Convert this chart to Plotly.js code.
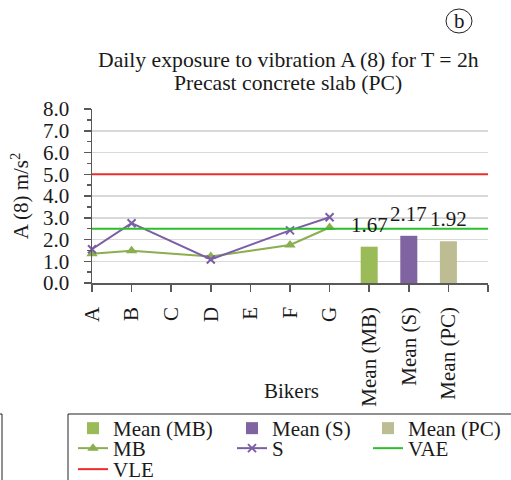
<!DOCTYPE html>
<html>
<head>
<meta charset="utf-8">
<script src="https://cdn.plot.ly/plotly-3.0.1.min.js"></script>
<style>html,body{margin:0;padding:0;background:#fff;}#chart{width:511px;height:480px;}</style>
</head>
<body>
<div id="chart"></div>
<script>
const categories = ['A', 'B', 'C', 'D', 'E', 'F', 'G', 'Mean (MB)', 'Mean (S)', 'Mean (PC)'];
const bikerIdx = [0, 1, 2, 3, 4, 5, 6];
const mbValues = [1.35, 1.48, null, 1.22, null, 1.75, 2.55];
const sValues = [1.55, 2.75, null, 1.08, null, 2.42, 3.02];
const meanIdx = [7, 8, 9];
const meanNames = ['Mean (MB)', 'Mean (S)', 'Mean (PC)'];
const meanValues = [1.67, 2.17, 1.92];
const vleValue = 5.0;
const vaeValue = 2.5;

const FONT = 'Liberation Serif, Times New Roman, serif';
const TXT = '#1a1a1a';
const FS = 21;
const FT = 21.7;
const barColors = ['#9BBB59', '#8064A2', '#BDBC93'];

// pixel -> paper helpers (plot area: x 92..488, y 109..283)
const L = 92, R = 488, T = 109, B = 283;
const px = v => (v - L) / (R - L);
const py = v => (B - v) / (B - T);

const traces = [];
meanIdx.forEach((xi, i) => {
  traces.push({
    type: 'bar', x: [xi], y: [meanValues[i]], name: meanNames[i], width: 0.43,
    marker: {color: barColors[i]}, legend: i === 0 ? 'legend' : 'legend' + (i + 1)
  });
});
traces.push({
  type: 'scatter', mode: 'lines+markers', x: bikerIdx, y: mbValues, name: 'MB', connectgaps: true,
  line: {color: '#8BAE4F', width: 2}, marker: {symbol: 'triangle-up', size: 10, color: '#8BAE4F'},
  legend: 'legend4', cliponaxis: false
});
traces.push({
  type: 'scatter', mode: 'lines+markers', x: bikerIdx, y: sValues, name: 'S', connectgaps: true,
  line: {color: '#7B5EA7', width: 2}, marker: {symbol: 'x-thin-open', size: 8, line: {color: '#7B5EA7', width: 2}},
  legend: 'legend5', cliponaxis: false
});
traces.push({
  type: 'scatter', mode: 'lines', x: [0, categories.length], y: [vaeValue, vaeValue], name: 'VAE',
  line: {color: '#2DBE2D', width: 2}, legend: 'legend6'
});
traces.push({
  type: 'scatter', mode: 'lines', x: [0, categories.length], y: [vleValue, vleValue], name: 'VLE',
  line: {color: '#EE2B2B', width: 2}, legend: 'legend7'
});

function leg(xpix, ypix) {
  return {x: px(xpix), y: py(ypix), xanchor: 'left', yanchor: 'top', xref: 'paper', yref: 'paper',
    bgcolor: 'rgba(0,0,0,0)', borderwidth: 0, font: {family: FONT, size: FS, color: TXT}};
}

const tickvals = categories.map((c, i) => i).concat([categories.length]);
const ticktext = categories.concat(['']);

const annotations = [
  {text: 'Daily exposure to vibration A (8) for T = 2h', x: px(288), y: py(60), xref: 'paper', yref: 'paper',
   showarrow: false, xanchor: 'center', yanchor: 'middle', font: {family: FONT, size: FT, color: TXT}},
  {text: 'Precast concrete slab (PC)', x: px(288), y: py(83), xref: 'paper', yref: 'paper',
   showarrow: false, xanchor: 'center', yanchor: 'middle', font: {family: FONT, size: FT, color: TXT}},
  {text: 'b', x: px(459), y: py(21), xref: 'paper', yref: 'paper', showarrow: false,
   xanchor: 'center', yanchor: 'middle', font: {family: FONT, size: 21, color: TXT}},
  {text: 'Bikers', x: px(291), y: py(391), xref: 'paper', yref: 'paper', showarrow: false,
   xanchor: 'center', yanchor: 'middle', font: {family: FONT, size: FS, color: TXT}}
];
meanIdx.forEach((xi, i) => {
  annotations.push({text: meanValues[i].toFixed(2), x: xi, y: meanValues[i], xref: 'x', yref: 'y',
    showarrow: false, xanchor: 'center', yanchor: 'bottom', yshift: 8, font: {family: FONT, size: FS, color: TXT}});
});

const layout = {
  width: 511, height: 480,
  margin: {l: L, r: 511 - R, t: T, b: 480 - B, pad: 0, autoexpand: false},
  paper_bgcolor: '#fff', plot_bgcolor: '#fff',
  font: {family: FONT, size: FS, color: TXT},
  xaxis: {
    range: [0, categories.length], tickvals: tickvals, ticktext: ticktext, tickangle: -90,
    ticks: 'outside', ticklen: 7, tickcolor: '#595959', tickwidth: 1.5, ticklabelstandoff: 7,
    showline: true, linecolor: '#595959', linewidth: 1.5, showgrid: false, zeroline: false,
    tickfont: {family: FONT, size: FS, color: TXT}, automargin: false
  },
  yaxis: {
    range: [0, 8], dtick: 1, tickformat: '.1f',
    ticks: 'outside', ticklen: 7, tickcolor: '#595959', tickwidth: 1.5, ticklabelstandoff: 10,
    minor: {dtick: 0.5, ticks: 'outside', ticklen: 4, tickcolor: '#595959', tickwidth: 1.5, showgrid: false},
    showline: true, linecolor: '#595959', linewidth: 1.5, gridcolor: '#D9D9D9', gridwidth: 1.5, zeroline: false,
    tickfont: {family: FONT, size: FS, color: TXT}, automargin: false,
    title: {text: 'A (8) m/s<sup>2</sup>', standoff: 8, font: {family: FONT, size: FS, color: TXT}}
  },
  showlegend: true,
  legend: leg(73, 408),
  legend2: leg(232, 408),
  legend3: leg(368, 408),
  legend4: leg(73, 428),
  legend5: leg(232, 428),
  legend6: leg(368, 428),
  legend7: leg(73, 449),
  annotations: annotations,
  shapes: [
    {type: 'rect', xref: 'paper', yref: 'paper', x0: px(68), x1: px(515), y0: py(414), y1: py(495),
     line: {color: '#222', width: 1}, fillcolor: 'rgba(0,0,0,0)'},
    {type: 'line', xref: 'paper', yref: 'paper', x0: px(2), x1: px(2), y0: py(414), y1: py(495),
     line: {color: '#222', width: 1}},
    {type: 'line', xref: 'paper', yref: 'paper', x0: px(-5), x1: px(2), y0: py(414), y1: py(414),
     line: {color: '#222', width: 1}},
    {type: 'circle', xref: 'paper', yref: 'paper', x0: px(446), x1: px(472), y0: py(9), y1: py(33),
     line: {color: '#222', width: 1}, fillcolor: 'rgba(0,0,0,0)'}
  ]
};

Plotly.newPlot('chart', traces, layout, {displayModeBar: false, staticPlot: true});
</script>
</body>
</html>
